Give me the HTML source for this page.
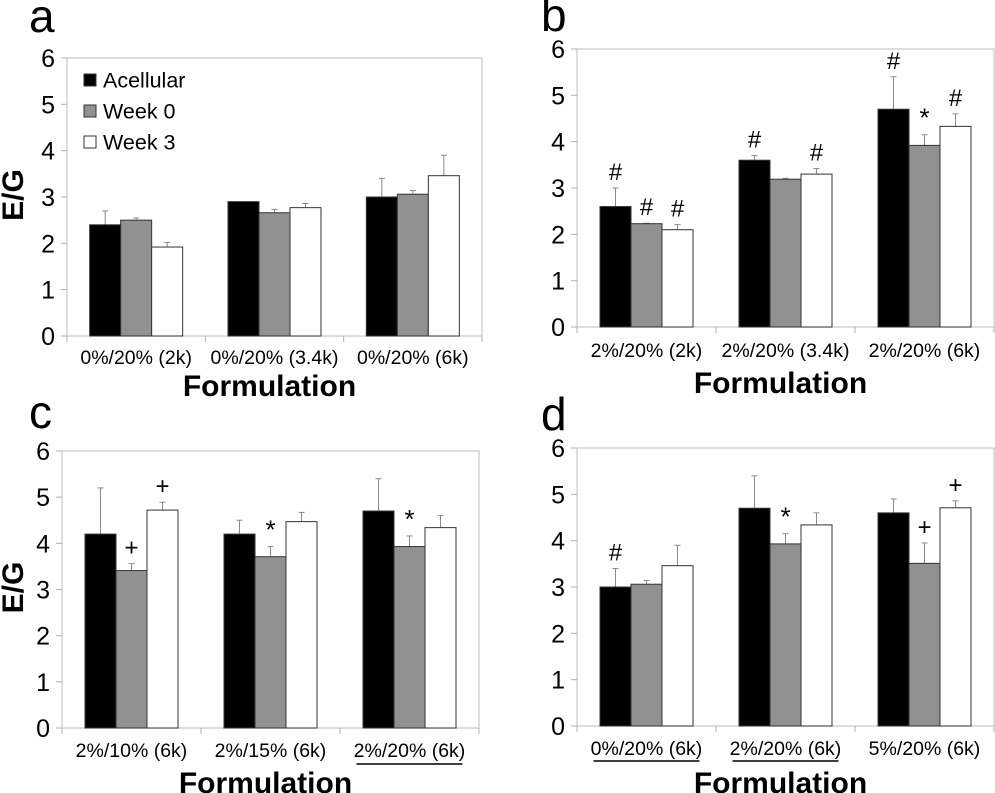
<!DOCTYPE html>
<html><head><meta charset="utf-8"><style>
body{margin:0;background:#fff;}
svg{display:block;font-family:"Liberation Sans",Arial,sans-serif;}
</style></head><body>
<svg id="fig" width="995" height="793" viewBox="0 0 995 793" xmlns="http://www.w3.org/2000/svg"></svg>
<script>
const seriesNames = ["Acellular","Week 0","Week 3"];
const yTicks = [0,1,2,3,4,5,6];
// panel a
const catsA = ["0%/20% (2k)","0%/20% (3.4k)","0%/20% (6k)"];
const acellA = [2.4,2.9,3.0], acellErrA = [0.3,0,0.4];
const w0A = [2.5,2.66,3.06], w0ErrA = [0.05,0.07,0.08];
const w3A = [1.92,2.77,3.46], w3ErrA = [0.1,0.09,0.44];
const markA = [["","",""],["","",""],["","",""]];
// panel b
const catsB = ["2%/20% (2k)","2%/20% (3.4k)","2%/20% (6k)"];
const acellB = [2.6,3.6,4.7], acellErrB = [0.4,0.1,0.7];
const w0B = [2.23,3.19,3.92], w0ErrB = [0.01,0.02,0.23];
const w3B = [2.1,3.3,4.33], w3ErrB = [0.11,0.12,0.27];
const markB = [["#","#","#"],["#","","#"],["#","*","#"]];
// panel c
const catsC = ["2%/10% (6k)","2%/15% (6k)","2%/20% (6k)"];
const acellC = [4.2,4.2,4.7], acellErrC = [1.0,0.3,0.7];
const w0C = [3.41,3.71,3.93], w0ErrC = [0.15,0.22,0.23];
const w3C = [4.72,4.47,4.34], w3ErrC = [0.17,0.2,0.26];
const markC = [["","+","+"],["","*",""],["","*",""]];
// panel d
const catsD = ["0%/20% (6k)","2%/20% (6k)","5%/20% (6k)"];
const acellD = [3.0,4.7,4.6], acellErrD = [0.4,0.7,0.3];
const w0D = [3.06,3.93,3.51], w0ErrD = [0.08,0.22,0.44];
const w3D = [3.46,4.34,4.71], w3ErrD = [0.44,0.26,0.15];
const markD = [["#","",""],["","*",""],["","+","+"]];

const svg = document.getElementById('fig');
const NS = "http://www.w3.org/2000/svg";
function mk(tag, attrs, parent, text){
  const e = document.createElementNS(NS, tag);
  for (const k in attrs) e.setAttribute(k, attrs[k]);
  if (text !== undefined) e.textContent = text;
  (parent||svg).appendChild(e);
  return e;
}
const fills = ["#000","#919191","#fff"];

function panel(id, L, R, T, B, letter, letterX, letterY, cats, vals, errs, marks, catY, formY, showYLabel, underline, ulY, legend){
  const g = mk('g', {});
  
  
  const y = v => B - (B - T) * v / 6;
  const slot = (R - L) / 3;
  const bw = 31;
  const lt = mk('text', {x: letterX, y: letterY, 'font-size': 46}, g, letter);
  
  
  const box = mk('rect', {x: L, y: T, width: R - L, height: B - T, fill: 'none', stroke: '#c8c8c8', 'stroke-width': 1.2}, g);
  
  
  yTicks.forEach(t => {
    mk('line', {x1: L - 6, x2: L, y1: y(t), y2: y(t), stroke: '#b0b0b0'}, g);
    const tl = mk('text', {x: L - 12, y: y(t) + 9, 'font-size': 25, 'text-anchor': 'end'}, g, String(t));
    
    
  });
  for (let i = 0; i <= 3; i++) mk('line', {x1: L + slot * i, x2: L + slot * i, y1: B, y2: B + 6, stroke: '#b0b0b0'}, g);
  cats.forEach((c, i) => {
    const cx = L + slot * (i + 0.5);
    const ct = mk('text', {x: cx, y: catY, 'font-size': 19.5, 'text-anchor': 'middle'}, g, c);
    
    
    if (underline[i]) mk('line', {x1: cx - 53, x2: cx + 53, y1: ulY, y2: ulY, stroke: '#000', 'stroke-width': 1.5}, g);
    const x0 = cx - 1.5 * bw;
    for (let s = 0; s < 3; s++) {
      const v = vals[s][i], e = errs[s][i];
      const bx = x0 + s * bw;
      const bcx = bx + bw / 2;
      if (e > 0) {
        mk('line', {x1: bcx, x2: bcx, y1: y(v), y2: y(v + e), stroke: '#8a8a8a', 'stroke-width': 1}, g);
        mk('line', {x1: bcx - 3, x2: bcx + 3, y1: y(v + e), y2: y(v + e), stroke: '#8a8a8a', 'stroke-width': 1}, g);
      }
      const r = mk('rect', {x: bx, y: y(v), width: bw, height: B - y(v), fill: fills[s], stroke: '#333', 'stroke-width': 1}, g);
      
      
      const m = marks[i][s];
      if (m) {
        const mt = mk('text', {x: bcx, y: y(v + e) - 8, 'font-size': m === '*' ? 26 : 24, 'text-anchor': 'middle'}, g, m);
        
        
      }
    }
  });
  const ft = mk('text', {x: (L + R) / 2 - 5, y: formY, 'font-size': 30, 'font-weight': 'bold', 'text-anchor': 'middle'}, g, 'Formulation');
  
  
  if (showYLabel) {
    const cy = (T + B) / 2 - 2;
    const yl = mk('text', {x: 0, y: 0, 'font-size': 30, 'font-weight': 'bold', 'text-anchor': 'middle', transform: 'translate(23,' + cy + ') rotate(-90)'}, g, 'E/G');
    
    
  }
  if (legend) {
    seriesNames.forEach((n, s) => {
      const ly = T + 22 + s * 31;
      const lg = mk('g', {}, g);
      
      
      mk('rect', {x: L + 17, y: ly - 6, width: 12, height: 12, fill: fills[s], stroke: '#333', 'stroke-width': 1}, lg);
      mk('text', {x: L + 36, y: ly + 7.5, 'font-size': 21.5}, lg, n);
    });
  }
}
panel('a', 67, 482, 58, 336, 'a', 29, 32, catsA, [acellA, w0A, w3A], [acellErrA, w0ErrA, w3ErrA], markA, 364, 396, true, [0,0,0], 0, true);
panel('b', 577, 994, 49, 327, 'b', 541, 31, catsB, [acellB, w0B, w3B], [acellErrB, w0ErrB, w3ErrB], markB, 357, 393, false, [0,0,0], 0, false);
panel('c', 62, 479, 451, 728, 'c', 29, 428, catsC, [acellC, w0C, w3C], [acellErrC, w0ErrC, w3ErrC], markC, 757, 793, true, [0,0,1], 764, false);
panel('d', 577, 994, 448, 726, 'd', 541, 430, catsD, [acellD, w0D, w3D], [acellErrD, w0ErrD, w3ErrD], markD, 755, 793, false, [1,1,0], 761, false);
</script>
</body></html>
